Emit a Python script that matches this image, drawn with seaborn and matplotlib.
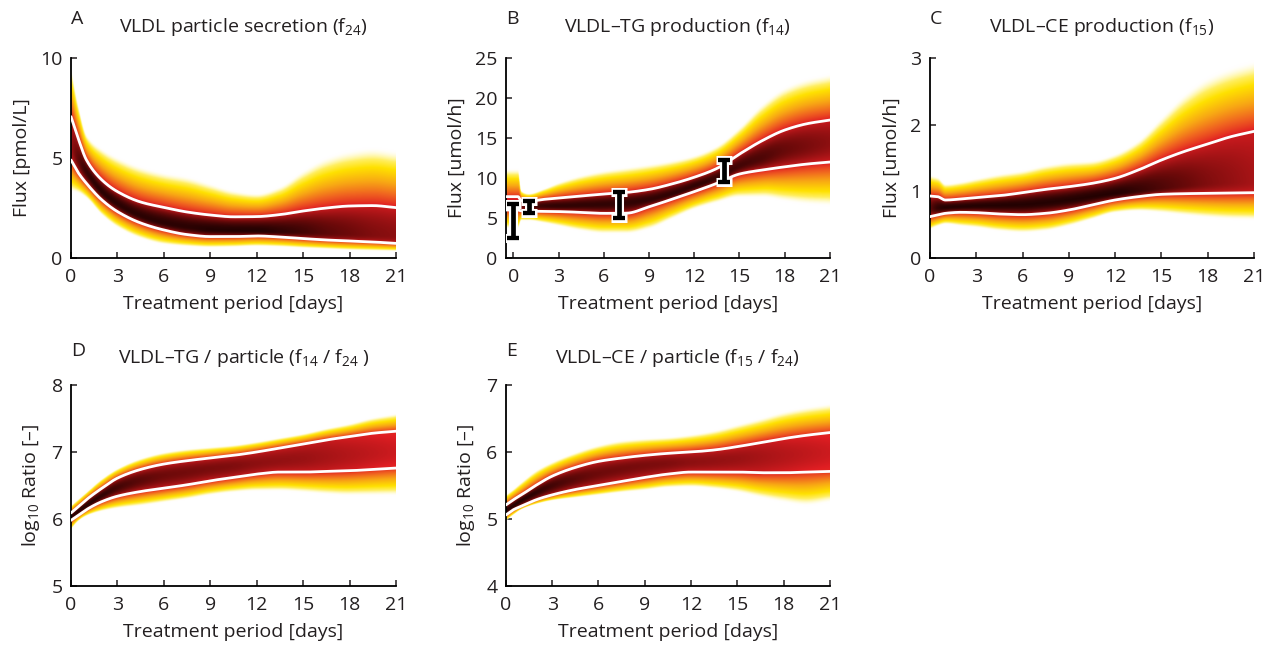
import numpy as np
import pandas as pd
import matplotlib
matplotlib.use("Agg")
import matplotlib.pyplot as plt
from matplotlib.colors import LinearSegmentedColormap
import seaborn as sns

# ---------------------------------------------------------------
# Model ensemble summaries (flux trajectories over treatment period)
# lo / hi   : outer edges of the trajectory ensemble
# ql / qh   : lower / upper percentile curves (white lines)
# mid       : most densely populated value
# core      : darkness of the densest region on the density colour scale
# ---------------------------------------------------------------
T = [0, 0.5, 1, 2, 3, 4.5, 6, 7.5, 9, 10.5, 12, 13.5, 15, 16.5, 18, 19.5, 21]

# A: VLDL particle secretion
a_lo = [3.3, 3.2, 2.95, 2.1, 1.5, 0.95, 0.65, 0.55, 0.5, 0.52, 0.56, 0.53, 0.47, 0.42, 0.37, 0.34, 0.32]
a_ql = [4.9, 4.23, 3.73, 2.9, 2.32, 1.75, 1.4, 1.17, 1.07, 1.07, 1.1, 1.05, 0.97, 0.9, 0.85, 0.8, 0.73]
a_mid = [5.6, 4.9, 4.3, 3.3, 2.7, 2.1, 1.75, 1.55, 1.42, 1.38, 1.35, 1.32, 1.3, 1.25, 1.2, 1.15, 1.1]
a_qh = [7.07, 5.9, 4.9, 3.9, 3.32, 2.8, 2.53, 2.3, 2.15, 2.06, 2.07, 2.17, 2.35, 2.5, 2.6, 2.62, 2.52]
a_hi = [9.6, 7.6, 6.2, 5.5, 5.07, 4.6, 4.3, 4.1, 3.75, 3.4, 3.25, 3.6, 4.4, 5.05, 5.4, 5.55, 5.4]
a_core = [0.22, 0.12, 0.06, 0.04, 0.04, 0.04, 0.04, 0.04, 0.03, 0.03, 0.03, 0.05, 0.08, 0.12, 0.15, 0.18, 0.2]

# B: VLDL-TG production (starts half a day before treatment)
TB = [-0.5, 0.3, 0.5, 1, 2, 3, 4.5, 6, 7.5, 9, 10.5, 12, 13.5, 15, 16.5, 18, 19.5, 21]
b_lo = [3.6, 3.6, 4.6, 4.6, 4.3, 3.9, 3.3, 2.96, 2.96, 3.5, 4.75, 6.0, 6.83, 7.46, 7.46, 7.0, 6.6, 6.4]
b_ql = [6.0, 6.0, 5.9, 5.85, 5.83, 5.8, 5.7, 5.58, 5.6, 6.4, 7.33, 8.3, 9.33, 10.5, 11.0, 11.4, 11.75, 12.0]
b_mid = [6.5, 6.5, 6.5, 6.5, 6.5, 6.5, 6.6, 6.7, 6.9, 7.3, 8.0, 9.0, 10.0, 11.5, 12.5, 13.5, 14.0, 14.5]
b_qh = [7.67, 7.67, 7.2, 7.1, 7.33, 7.5, 7.75, 8.0, 8.2, 8.58, 9.25, 10.1, 11.2, 13.0, 14.67, 16.0, 16.8, 17.25]
b_hi = [11.2, 11.2, 8.5, 8.1, 8.7, 9.5, 10.4, 11.0, 11.4, 11.8, 12.25, 12.9, 14.1, 16.4, 19.3, 21.4, 22.5, 23.1]
b_core = [0.28, 0.28, 0.15, 0.1, 0.06, 0.05, 0.05, 0.05, 0.05, 0.05, 0.05, 0.05, 0.06, 0.08, 0.1, 0.14, 0.17, 0.2]

# B: measured VLDL-TG production (mean +/- sd)
meas_t = [0, 1, 7, 14]
meas_mean = [4.65, 6.4, 6.65, 10.85]
meas_sd = [2.15, 0.75, 1.65, 1.35]

# C: VLDL-CE production
c_lo = [0.42, 0.47, 0.5, 0.47, 0.445, 0.395, 0.37, 0.395, 0.47, 0.57, 0.67, 0.695, 0.67, 0.63, 0.595, 0.57, 0.56]
c_ql = [0.62, 0.645, 0.67, 0.685, 0.68, 0.66, 0.65, 0.67, 0.72, 0.795, 0.87, 0.92, 0.955, 0.965, 0.97, 0.975, 0.98]
c_mid = [0.75, 0.75, 0.76, 0.77, 0.78, 0.79, 0.8, 0.83, 0.87, 0.92, 0.97, 1.01, 1.05, 1.09, 1.12, 1.14, 1.15]
c_qh = [0.93, 0.92, 0.87, 0.885, 0.905, 0.935, 0.98, 1.03, 1.07, 1.12, 1.195, 1.32, 1.47, 1.6, 1.71, 1.82, 1.9]
c_hi = [1.25, 1.22, 1.12, 1.15, 1.2, 1.27, 1.32, 1.4, 1.45, 1.47, 1.57, 1.77, 2.12, 2.47, 2.72, 2.87, 2.97]
c_core = [0.12, 0.05, 0.03, 0.03, 0.03, 0.03, 0.03, 0.03, 0.03, 0.03, 0.03, 0.06, 0.1, 0.14, 0.18, 0.21, 0.24]

# D: log10 TG per particle
d_lo = [5.84, 5.97, 6.04, 6.11, 6.15, 6.19, 6.24, 6.29, 6.35, 6.39, 6.41, 6.41, 6.39, 6.36, 6.34, 6.34, 6.34]
d_ql = [5.98, 6.06, 6.14, 6.26, 6.34, 6.41, 6.46, 6.51, 6.57, 6.62, 6.67, 6.7, 6.7, 6.71, 6.72, 6.74, 6.76]
d_mid = [6.03, 6.12, 6.2, 6.35, 6.47, 6.58, 6.65, 6.7, 6.75, 6.79, 6.83, 6.87, 6.9, 6.93, 6.95, 6.98, 7.0]
d_qh = [6.09, 6.19, 6.29, 6.46, 6.61, 6.74, 6.82, 6.87, 6.91, 6.95, 7.0, 7.06, 7.12, 7.18, 7.23, 7.28, 7.31]
d_hi = [6.21, 6.31, 6.41, 6.61, 6.76, 6.91, 7.0, 7.05, 7.08, 7.11, 7.16, 7.22, 7.28, 7.36, 7.43, 7.52, 7.58]
d_core = [0.03, 0.03, 0.03, 0.05, 0.08, 0.12, 0.15, 0.16, 0.17, 0.18, 0.2, 0.21, 0.22, 0.24, 0.26, 0.28, 0.3]

# E: log10 CE per particle
e_lo = [4.97, 5.06, 5.14, 5.22, 5.27, 5.31, 5.35, 5.39, 5.42, 5.46, 5.47, 5.44, 5.39, 5.31, 5.24, 5.19, 5.24]
e_ql = [5.06, 5.14, 5.19, 5.29, 5.36, 5.44, 5.5, 5.56, 5.62, 5.67, 5.7, 5.7, 5.7, 5.69, 5.69, 5.7, 5.71]
e_mid = [5.13, 5.2, 5.28, 5.4, 5.5, 5.6, 5.68, 5.75, 5.8, 5.83, 5.85, 5.87, 5.9, 5.93, 5.95, 5.98, 6.0]
e_qh = [5.21, 5.29, 5.36, 5.51, 5.64, 5.77, 5.86, 5.91, 5.95, 5.98, 6.0, 6.03, 6.08, 6.14, 6.2, 6.25, 6.29]
e_hi = [5.37, 5.46, 5.56, 5.74, 5.86, 6.0, 6.11, 6.18, 6.21, 6.23, 6.27, 6.33, 6.42, 6.51, 6.61, 6.68, 6.73]
e_core = [0.03, 0.03, 0.03, 0.05, 0.08, 0.12, 0.15, 0.16, 0.17, 0.18, 0.2, 0.21, 0.22, 0.24, 0.26, 0.28, 0.3]

titles = ["VLDL particle secretion (f$_{24}$)",
          "VLDL\u2013TG production (f$_{14}$)",
          "VLDL\u2013CE production (f$_{15}$)",
          "VLDL\u2013TG / particle (f$_{14}$ / f$_{24}$ )",
          "VLDL\u2013CE / particle (f$_{15}$ / f$_{24}$)"]
letters = ["A", "B", "C", "D", "E"]
ylabels = ["Flux [pmol/L]", "Flux [umol/h]", "Flux [umol/h]",
           "log$_{10}$ Ratio [\u2013]", "log$_{10}$ Ratio [\u2013]"]
xlabel = "Treatment period [days]"
day_ticks = [0, 3, 6, 9, 12, 15, 18, 21]

# density scale: dense (black) -> red -> orange -> yellow -> sparse (white)
density_cmap = LinearSegmentedColormap.from_list("density", [
    (0.00, "#140000"), (0.15, "#6e0a0a"), (0.33, "#e01e23"),
    (0.50, "#f06420"), (0.65, "#f8a814"), (0.80, "#ffe100"),
    (0.92, "#fff58c"), (1.00, "#ffffff")])


def pchip(x, y, xi):
    """Monotone piecewise cubic Hermite curve through the nodes."""
    x = np.asarray(x, float)
    y = np.asarray(y, float)
    h = np.diff(x)
    d = np.diff(y) / h
    m = np.zeros_like(y)
    m[0], m[-1] = d[0], d[-1]
    for k in range(1, len(x) - 1):
        if d[k - 1] * d[k] > 0:
            w1 = 2 * h[k] + h[k - 1]
            w2 = h[k] + 2 * h[k - 1]
            m[k] = (w1 + w2) / (w1 / d[k - 1] + w2 / d[k])
    idx = np.clip(np.searchsorted(x, xi) - 1, 0, len(x) - 2)
    s = (xi - x[idx]) / h[idx]
    h00 = 2 * s**3 - 3 * s**2 + 1
    h10 = s**3 - 2 * s**2 + s
    h01 = -2 * s**3 + 3 * s**2
    h11 = s**3 - s**2
    return (h00 * y[idx] + h10 * h[idx] * m[idx]
            + h01 * y[idx + 1] + h11 * h[idx] * m[idx + 1])


def draw_ensemble(ax, t, lo, ql, mid, qh, hi, core, ylim, p_in=2.0, p_out=0.8):
    tt = np.linspace(t[0], t[-1], 600)
    L, QL, M, QH, H, K = [pchip(t, a, tt) for a in (lo, ql, mid, qh, hi, core)]
    VW = np.maximum(K + 0.06, 0.3)          # colour level on the white curves
    yy = np.linspace(ylim[0], ylim[1], 700)[:, None]
    v = np.full((yy.shape[0], tt.size), 2.0)
    # above the densest value
    s = (yy >= M) & (yy <= QH)
    u = np.clip((yy - M) / np.maximum(QH - M, 1e-9), 0, 1)
    v = np.where(s, K + (VW - K) * u**p_in, v)
    s = yy > QH
    u = np.clip((yy - QH) / np.maximum(H - QH, 1e-9), 0, None)
    v = np.where(s, VW + (1 - VW) * u**p_out, v)
    # below the densest value
    s = (yy < M) & (yy >= QL)
    u = np.clip((M - yy) / np.maximum(M - QL, 1e-9), 0, 1)
    v = np.where(s, K + (VW - K) * u**p_in, v)
    s = yy < QL
    u = np.clip((QL - yy) / np.maximum(QL - L, 1e-9), 0, None)
    v = np.where(s, VW + (1 - VW) * u**p_out, v)
    rgba = density_cmap(np.clip(v, 0, 1))
    rgba[..., 3] = np.clip((1.0 - v) / 0.12, 0, 1)
    ax.imshow(rgba, extent=(tt[0], tt[-1], ylim[0], ylim[1]), origin="lower",
              aspect="auto", interpolation="bilinear", zorder=1)
    for q in (QL, QH):
        sns.lineplot(x=tt, y=q, color="white", lw=2.0, ax=ax, zorder=3,
                     estimator=None, sort=False)


sns.set_theme(style="ticks")
plt.rcParams.update({
    "font.family": ["Open Sans", "DejaVu Sans"],
    "mathtext.fontset": "custom",
    "mathtext.rm": "Open Sans",
    "mathtext.it": "Open Sans",
    "mathtext.default": "regular",
    "xtick.direction": "in",
    "ytick.direction": "in",
    "axes.linewidth": 1.3,
    "xtick.major.width": 1.1,
    "ytick.major.width": 1.1,
    "xtick.major.size": 4,
    "ytick.major.size": 4,
    "axes.edgecolor": "black",
    "xtick.color": "#231f20",
    "ytick.color": "#231f20",
    "text.color": "#231f20",
    "axes.labelcolor": "#231f20",
})

fig = plt.figure(figsize=(12.68, 6.49), dpi=100)
rects = [[0.056, 0.6025, 0.2563, 0.308],
         [0.399, 0.6025, 0.2555, 0.308],
         [0.7334, 0.6025, 0.2555, 0.308],
         [0.056, 0.0971, 0.2563, 0.3097],
         [0.399, 0.0971, 0.2555, 0.3097]]
axes = [fig.add_axes(r) for r in rects]

panels = [
    (T, a_lo, a_ql, a_mid, a_qh, a_hi, a_core, (0, 10), [0, 5, 10]),
    (TB, b_lo, b_ql, b_mid, b_qh, b_hi, b_core, (0, 25), [0, 5, 10, 15, 20, 25]),
    (T, c_lo, c_ql, c_mid, c_qh, c_hi, c_core, (0, 3), [0, 1, 2, 3]),
    (T, d_lo, d_ql, d_mid, d_qh, d_hi, d_core, (5, 8), [5, 6, 7, 8]),
    (T, e_lo, e_ql, e_mid, e_qh, e_hi, e_core, (4, 7), [4, 5, 6, 7]),
]

fs = 14
for i, (ax, pan) in enumerate(zip(axes, panels)):
    t, lo, ql, mid, qh, hi, core, ylim, yt = pan
    draw_ensemble(ax, t, lo, ql, mid, qh, hi, core, ylim)
    ax.set_xlim(t[0], 21)
    ax.set_ylim(*ylim)
    ax.set_xticks(day_ticks)
    ax.set_yticks(yt)
    ax.tick_params(axis="x", labelsize=fs, pad=7.5)
    ax.tick_params(axis="y", labelsize=fs, pad=6)
    ax.set_xlabel(xlabel, fontsize=fs, labelpad=6)
    ax.set_ylabel(ylabels[i], fontsize=fs, labelpad=7)
    top = 1.13 if i < 3 else 1.11
    ax.text(0.5 + 10 / 324, top, titles[i], transform=ax.transAxes,
            ha="center", va="baseline", fontsize=fs)
    ltop = 1.17 if i < 3 else 1.145
    ax.text(0.0, ltop, letters[i], transform=ax.transAxes, ha="left",
            va="baseline", fontsize=fs)
    sns.despine(ax=ax)

# measured values on panel B: white halo under black bars
axB = axes[1]
axB.errorbar(meas_t, meas_mean, yerr=meas_sd, fmt="none", ecolor="white",
             elinewidth=6.5, capsize=6.0, capthick=6.5, zorder=5)
axB.errorbar(meas_t, meas_mean, yerr=meas_sd, fmt="none", ecolor="black",
             elinewidth=3.4, capsize=4.1, capthick=3.1, zorder=6)

fig.savefig("out.png", dpi=100)
